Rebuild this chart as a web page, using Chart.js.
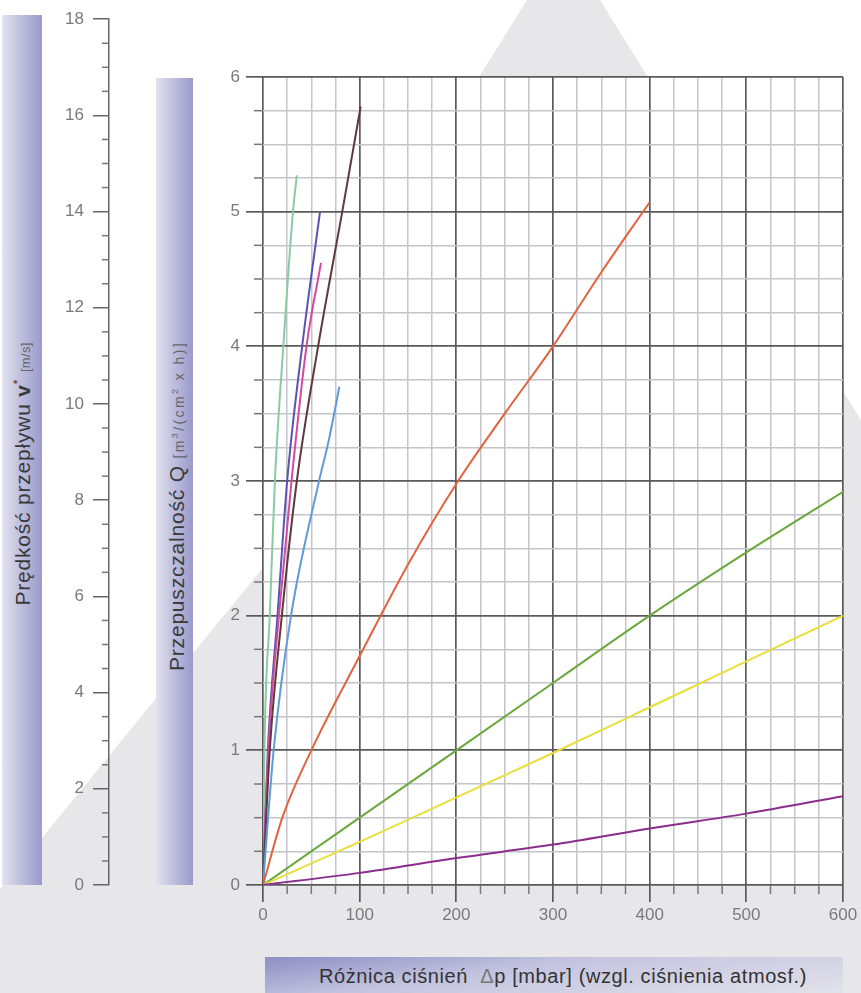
<!DOCTYPE html>
<html>
<head>
<meta charset="utf-8">
<script src="https://cdn.jsdelivr.net/npm/chart.js@4.4.1/dist/chart.umd.min.js"></script>
<style>
  body { margin: 0; background: #fff; }
  #wrap { position: relative; width: 861px; height: 993px; overflow: hidden; background: #fff;
          font-family: 'Liberation Sans', Arial, sans-serif; }
  #tri { position: absolute; left: 0; top: 0; width: 861px; height: 993px; background: #e7e7ea;
         clip-path: polygon(527px 0, 600px 0, 861px 420px, 861px 993px, 0 993px, 0 889px, 262px 569px, 479px 77px); }
  .vbar { position: absolute; background: linear-gradient(to right, #e2e2ef 0%, #c0c0de 45%, #9a9acb 100%); }
  .vtext { position: absolute; transform: translate(-50%, -50%) rotate(-90deg); white-space: nowrap;
           font-size: 21px; letter-spacing: 0.8px; color: #3a3a3a; }
  .unit { color: #666; }
  #hbar { position: absolute; left: 265px; top: 957px; width: 578px; height: 36px;
          background: linear-gradient(172deg, #8e8ec4 0%, #c4c4e0 40%, #e2e2ea 100%); }
  #htext { position: absolute; left: 563px; top: 976px; transform: translate(-50%, -50%);
           white-space: nowrap; font-size: 20px; letter-spacing: 0.6px; color: #333; }
  canvas { position: absolute; left: 0; top: 0; }
</style>
</head>
<body>
<div id="wrap">
  <div id="tri"></div>
  <div class="vbar" style="left:2px;top:15px;width:40px;height:870px"></div>
  <div class="vbar" style="left:156px;top:78px;width:37px;height:807px"></div>
  <div class="vtext" style="left:23px;top:474px">Prędkość przepływu <b>v</b><sup style="font-size:12px">*</sup> <span class="unit" style="font-size:13px;letter-spacing:0.3px">[m/s]</span></div>
  <div class="vtext" style="left:177px;top:506px">Przepuszczalność Q <span class="unit" style="font-size:14px;letter-spacing:2.4px">[m<sup style="font-size:9px">3</sup>/(cm<sup style="font-size:9px">2</sup> x h)]</span></div>
  <div id="hbar"></div>
  <div id="htext">Różnica ciśnień <span style="color:#777">&nbsp;Δ</span>p [mbar] (wzgl. ciśnienia atmosf.)</div>
  <canvas id="mainChart" width="861" height="993"></canvas>
  <canvas id="velChart" width="140" height="993"></canvas>
</div>
<script>
// tick labels
const xTickLabels = [0, 100, 200, 300, 400, 500, 600];
const qTickLabels = [0, 1, 2, 3, 4, 5, 6];
const vTickLabels = [0, 2, 4, 6, 8, 10, 12, 14, 16, 18];

// curves: pressure difference [mbar] and permeability Q
const tealDp = [0, 1.5, 7, 12.3, 21, 31, 35];
const tealQ = [0, 1, 2, 3, 4, 5, 5.27];

const violetDp = [0, 5, 15, 25, 40.5, 59];
const violetQ = [0, 1, 2, 3, 4, 5];

const pinkDp = [0, 5.5, 16.5, 29.5, 45, 60];
const pinkQ = [0, 1, 2, 3, 4, 4.62];

const brownDp = [0, 7, 19.5, 35, 57, 82, 101];
const brownQ = [0, 1, 2, 3, 4, 5, 5.78];

const blueDp = [0, 11, 29, 58, 68, 79];
const blueQ = [0, 1, 2, 3, 3.3, 3.7];

const orangeDp = [0, 20, 50, 100, 150, 200, 250, 300, 350, 400];
const orangeQ = [0, 0.5, 1, 1.7, 2.38, 2.98, 3.5, 4.0, 4.55, 5.07];

const greenDp = [0, 100, 200, 300, 400, 500, 600];
const greenQ = [0, 0.5, 1.0, 1.5, 2.0, 2.47, 2.92];

const yellowDp = [0, 100, 200, 300, 400, 500, 600];
const yellowQ = [0, 0.32, 0.65, 0.98, 1.32, 1.66, 2.0];

const purpleDp = [0, 100, 200, 300, 400, 500, 600];
const purpleQ = [0, 0.09, 0.2, 0.3, 0.42, 0.53, 0.66];

const MAJOR = '#5a5a5a';
const MINOR = '#c4c4ca';

Chart.defaults.font.family = "'Liberation Sans', Arial, sans-serif";
Chart.defaults.font.size = 17;
Chart.defaults.color = '#7a7a7a';

// short tick marks for the minor steps (length per scale id)
const minorTickCfg = {
  x: { len: 9, major: xTickLabels },
  y: { len: 9, major: qTickLabels },
  v: { len: 7, major: vTickLabels }
};

const minorTicks = {
  id: 'minorTicks',
  afterDraw(chart) {
    const ctx = chart.ctx;
    const area = chart.chartArea;
    ctx.save();
    ctx.strokeStyle = '#777';
    ctx.lineWidth = 1.5;
    Object.values(chart.scales).forEach(scale => {
      const cfg = minorTickCfg[scale.id];
      if (!cfg || !scale.options.display) return;
      scale.ticks.forEach(t => {
        if (cfg.major.includes(t.value)) return;
        const p = scale.getPixelForValue(t.value);
        ctx.beginPath();
        if (scale.isHorizontal()) {
          ctx.moveTo(p, area.bottom);
          ctx.lineTo(p, area.bottom + cfg.len);
        } else {
          ctx.moveTo(area.left - cfg.len, p);
          ctx.lineTo(area.left, p);
        }
        ctx.stroke();
      });
    });
    ctx.restore();
  }
};

// white paper under the grid
const plotBg = {
  id: 'plotBg',
  beforeDraw(chart) {
    const a = chart.chartArea;
    chart.ctx.save();
    chart.ctx.fillStyle = '#fff';
    chart.ctx.fillRect(a.left, a.top, a.right - a.left, a.bottom - a.top);
    chart.ctx.restore();
  }
};

function pts(xs, ys) {
  return xs.map((x, i) => ({ x: x, y: ys[i] }));
}

function curve(xs, ys, color) {
  return {
    data: pts(xs, ys),
    borderColor: color,
    borderWidth: 2,
    pointRadius: 0,
    showLine: true,
    cubicInterpolationMode: 'monotone'
  };
}

const datasets = [
  curve(purpleDp, purpleQ, '#8a2d8c'),
  curve(yellowDp, yellowQ, '#e6df3c'),
  curve(greenDp, greenQ, '#6aa83e'),
  curve(orangeDp, orangeQ, '#e2633f'),
  curve(blueDp, blueQ, '#5e9bd8'),
  curve(brownDp, brownQ, '#5e3a3c'),
  curve(pinkDp, pinkQ, '#d24a9c'),
  curve(violetDp, violetQ, '#5a52b4'),
  curve(tealDp, tealQ, '#8ccaa2')
];

new Chart(document.getElementById('mainChart'), {
  type: 'scatter',
  data: { datasets: datasets },
  plugins: [plotBg, minorTicks],
  options: {
    responsive: false,
    animation: false,
    layout: { padding: { left: 0, right: 18, top: 77, bottom: 0 } },
    plugins: { legend: { display: false }, tooltip: { enabled: false } },
    scales: {
      x: {
        type: 'linear', min: 0, max: 600,
        afterFit: s => { s.height = 108; },
        border: { display: false },
        grid: {
          color: c => xTickLabels.includes(c.tick.value) ? MAJOR : MINOR,
          lineWidth: c => xTickLabels.includes(c.tick.value) ? 1.7 : 1.5,
          tickColor: c => xTickLabels.includes(c.tick.value) ? MAJOR : 'transparent',
          tickLength: 17
        },
        ticks: {
          stepSize: 25, autoSkip: false, maxRotation: 0, padding: 3,
          callback: v => xTickLabels.includes(v) ? v : ''
        }
      },
      y: {
        type: 'linear', min: 0, max: 6,
        afterFit: s => { s.width = 263; },
        border: { display: false },
        grid: {
          color: c => qTickLabels.includes(c.tick.value) ? MAJOR : MINOR,
          lineWidth: c => qTickLabels.includes(c.tick.value) ? 1.7 : 1.5,
          tickColor: c => qTickLabels.includes(c.tick.value) ? MAJOR : 'transparent',
          tickLength: 17
        },
        ticks: {
          stepSize: 0.25, autoSkip: false, padding: 6,
          callback: v => qTickLabels.includes(v) ? v : ''
        }
      }
    }
  }
});

// velocity axis on the far left
new Chart(document.getElementById('velChart'), {
  type: 'scatter',
  data: { datasets: [] },
  plugins: [minorTicks],
  options: {
    responsive: false,
    animation: false,
    layout: { padding: { left: 0, right: 0, top: 14, bottom: 108 } },
    plugins: { legend: { display: false }, tooltip: { enabled: false } },
    scales: {
      x: { type: 'linear', display: false, min: 0, max: 1 },
      v: {
        type: 'linear', position: 'left', min: 0, max: 18,
        afterFit: s => { s.width = 109; },
        border: { display: true, color: '#666', width: 1.5 },
        grid: {
          drawOnChartArea: false,
          tickColor: c => vTickLabels.includes(c.tick.value) ? '#666' : 'transparent',
          tickLength: 16,
          lineWidth: 1.5
        },
        ticks: {
          stepSize: 0.5, autoSkip: false, padding: 9,
          callback: v => vTickLabels.includes(v) ? v : ''
        }
      }
    }
  }
});
</script>
</body>
</html>
